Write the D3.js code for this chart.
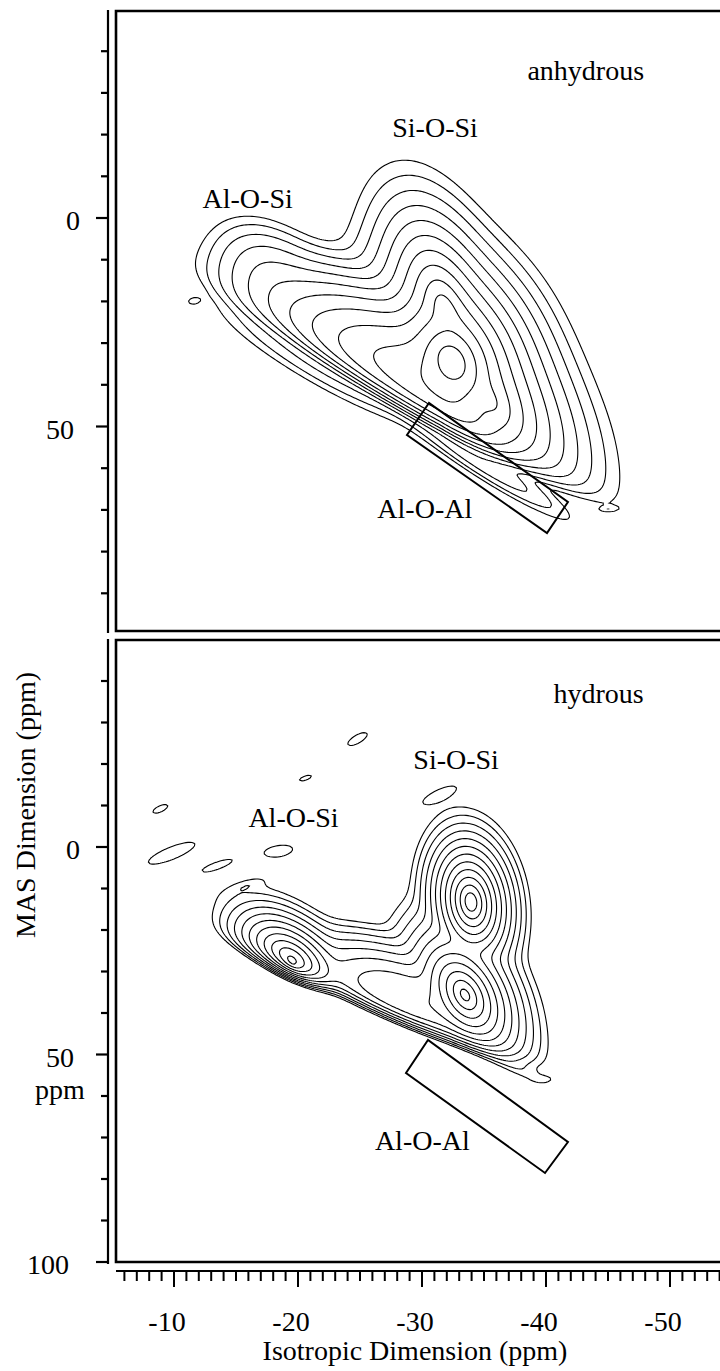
<!DOCTYPE html>
<html><head><meta charset="utf-8">
<script src="https://cdn.jsdelivr.net/npm/d3@7"></script>
<style>html,body{margin:0;padding:0;background:#fff}svg{display:block}</style>
</head><body>
<script>
// ---------- DATA (ppm) ----------
// spectral components:
// [iso, mas, amplitude, sdIso, sdMas, rho, shape, cutByEdge, sdIsoFactorTowardLowerShift]
// shape: 0.5 = exponential (cusped) profile, 1 = gaussian profile
const anhydrousPeaks = [
  [-32.42, 34.53, 1.25, 2.42,  8.73, -0.23, 0.5, 1, 1],   // Si-O-Si main
  [-31.85, 22.06, 0.70, 2.08, 10.3,  -0.45, 0.5, 1, 1],   // Si-O-Si upper ridge
  [-31.45, 42.45, 0.70, 4.50, 17.3,  -0.72, 1.0, 1, 2.0], // Al-O-Si ridge
  [-35.48, 43.65, 0.60, 3.22, 11.6,  -0.52, 0.5, 1, 1],   // Si-O-Si tail
  [-18.15, 14.87, 0.16, 3.90, 10.8,  -0.40, 1.0, 0, 1],   // Al-O-Si shoulder
  [-22.58, 35.25, 0.11, 7.80, 13.6,  -0.90, 1.0, 0, 1],   // tail below edge
  [-34.68, 58.03, 0.12, 6.12, 12.1,  -0.95, 1.0, 0, 1],   // Al-O-Al
  [-11.6,  19.9, 0.075, 1.2,  2.0,   0.20, 0.5, 0, 1],
  [-45.0,  69.8, 0.075, 1.8,  1.6,   0.10, 0.5, 0, 1]
];
const hydrousPeaks = [
  [-33.95, 13.25, 1.25, 1.13,  5.30, -0.15, 0.5, 1, 1], // Si-O-Si upper
  [-33.47, 35.66, 1.10, 1.60,  6.00, -0.40, 0.5, 1, 1], // Si-O-Si lower
  [-19.52, 27.71, 1.00, 1.65,  4.53, -0.49, 0.5, 1, 1], // Al-O-Si
  [-28.63, 38.07, 0.36, 5.61, 10.8,  -0.54, 1.0, 1, 1], // ridge between
  [-35.48, 48.92, 0.09, 4.21,  7.52, -0.93, 1.0, 0, 1], // Al-O-Al
  [ -9.8,   1.5, 0.075, 5.9, 8.3, 0.80, 0.5, 0, 1],
  [-13.4,   4.6, 0.072, 4.0, 5.0, 0.80, 0.5, 0, 1],
  [ -8.9,  -9.2, 0.075, 1.9, 3.3, 0.66, 0.5, 0, 1],
  [-20.6, -16.6, 0.075, 1.5, 2.1, 0.65, 0.5, 0, 1],
  [-24.8, -26.0, 0.075, 2.5, 5.0, 0.72, 0.5, 0, 1],
  [-18.5,   1.0, 0.072, 4.0, 5.2, 0.33, 0.5, 0, 1],
  [-15.8,   9.6, 0.075, 3.1, 4.2, 0.71, 0.5, 0, 1],
  [-31.4, -12.5, 0.075, 4.0, 6.5, 0.76, 0.5, 0, 1],
  [-39.76, 55.9, 0.075, 1.5, 1.5, 0.00, 0.5, 0, 1]
];
// lower-left cut-off line of the distribution [iso, mas] and its softness (ppm)
const anhydrousEdge = [[-18.55, 28.06], [-34.68, 54.44]];
const anhydrousEdgeWidth = 2.0;
const hydrousEdge = [[-16.13, 25.78], [-33.06, 46.99]];
const hydrousEdgeWidth = 1.5;
const contourLevels = [0.06, 0.077, 0.099, 0.127, 0.163, 0.209, 0.268, 0.344, 0.441, 0.566, 0.726, 0.93];
const blendPower = 4;
// Al-O-Al boxes [iso, mas]
const anhydrousBox = [[-30.56, 44.36], [-28.79, 52.04], [-40.08, 75.54], [-41.77, 68.11]];
const hydrousBox = [[-30.48, 46.5], [-28.71, 54.46], [-39.92, 78.55], [-41.77, 71.08]];
// text labels [text, iso, mas]
const anhydrousLabels = [["anhydrous", -38.5, -33.1], ["Si-O-Si", -27.6, -19.4], ["Al-O-Si", -12.3, -2.4], ["Al-O-Al", -26.4, 71.9]];
const hydrousLabels = [["hydrous", -40.6, -34.7], ["Si-O-Si", -29.3, -18.8], ["Al-O-Si", -16.0, -4.8], ["Al-O-Al", -26.2, 73.0]];
const xTickLabels = [-10, -20, -30, -40, -50];
const yTickLabelsTop = [[0, "0"], [50, "50"]];
const yTickLabelsBottom = [[0, "0"], [50, "50"], [100, "100"]];
const xTitle = "Isotropic Dimension (ppm)";
const yTitle = "MAS Dimension (ppm)";

// ---------- LAYOUT ----------
const W = 720, H = 1371;
const FONT = "'Liberation Serif','Times New Roman',serif";
const x = d3.scaleLinear().domain([0, -50]).range([50, 670]);
const yTop = d3.scaleLinear().domain([-50, 100]).range([9.5, 635]);
const yBot = d3.scaleLinear().domain([-50, 100]).range([639.5, 1262]);

const svg = d3.select("body").append("svg").attr("width", W).attr("height", H);

function fieldAt(peaks, edge, ew, iso, mas) {
  const [[i0, m0], [i1, m1]] = edge;
  const mLine = m0 + (iso - i0) * (m1 - m0) / (i1 - i0);
  const f = 1 / (1 + Math.exp((mas - mLine) / ew));
  let s = 0;
  for (const p of peaks) {
    const [ci, cm, a, si, sm, r, shape, isCut, stretch] = p;
    const u = (iso - ci) / (iso > ci ? si * stretch : si), v = (mas - cm) / sm;
    const q = Math.max(0, (u * u - 2 * r * u * v + v * v) / (1 - r * r));
    let val = a * Math.exp(-Math.pow(q / 2, shape));
    if (isCut) val *= f;
    s += Math.pow(val, blendPower);
  }
  return Math.pow(s, 1 / blendPower);
}

function drawPanel(y, peaks, edge, ew, box, labels, top, bottom) {
  const left = 116, right = 722, step = 2;
  const g = svg.append("g");
  const clipId = "clip" + top;
  svg.append("clipPath").attr("id", clipId).append("rect")
    .attr("x", left).attr("y", top).attr("width", right - left).attr("height", bottom - top);
  const nx = Math.ceil((right - left) / step) + 1, ny = Math.ceil((bottom - top) / step) + 1;
  const vals = new Float64Array(nx * ny);
  for (let j = 0; j < ny; j++) {
    const mas = y.invert(top + j * step);
    for (let i = 0; i < nx; i++) {
      const iso = x.invert(left + i * step);
      vals[j * nx + i] = fieldAt(peaks, edge, ew, iso, mas);
    }
  }
  const contours = d3.contours().size([nx, ny]).thresholds(contourLevels)(vals);
  const proj = d3.geoTransform({
    point: function(px, py) { this.stream.point(left + (px - 0.5) * step, top + (py - 0.5) * step); }
  });
  const path = d3.geoPath(proj);
  g.append("g").attr("clip-path", `url(#${clipId})`).selectAll("path").data(contours).join("path")
    .attr("d", path).attr("fill", "none").attr("stroke", "#000").attr("stroke-width", 1.1);
  g.append("path").datum(box)
    .attr("d", d3.line().x(d => x(d[0])).y(d => y(d[1])).curve(d3.curveLinearClosed))
    .attr("fill", "none").attr("stroke", "#000").attr("stroke-width", 2);
  g.selectAll("text.lab").data(labels).join("text").attr("class", "lab")
    .attr("x", d => x(d[1])).attr("y", d => y(d[2])).text(d => d[0])
    .attr("font-family", FONT).attr("font-size", 28).attr("fill", "#000");
  g.append("path").attr("d", `M${right},${top}H${left}V${bottom}H${right}`)
    .attr("fill", "none").attr("stroke", "#000").attr("stroke-width", 2.6);
}

drawPanel(yTop, anhydrousPeaks, anhydrousEdge, anhydrousEdgeWidth, anhydrousBox, anhydrousLabels, 11, 631);
drawPanel(yBot, hydrousPeaks, hydrousEdge, hydrousEdgeWidth, hydrousBox, hydrousLabels, 640, 1262);

// ---------- Y axis ----------
const ax = svg.append("g");
const axisX = 108;
function yAxisSeg(y, from, to, ticks) {
  ax.append("line").attr("x1", axisX).attr("x2", axisX).attr("y1", from).attr("y2", to)
    .attr("stroke", "#000").attr("stroke-width", 2.2);
  ax.selectAll(null).data(ticks).join("line")
    .attr("x1", d => axisX - (d % 50 === 0 ? 12 : 7)).attr("x2", axisX)
    .attr("y1", d => y(d)).attr("y2", d => y(d)).attr("stroke", "#000").attr("stroke-width", 2.2);
}
yAxisSeg(yTop, 10, 633, d3.range(-40, 100, 10));
yAxisSeg(yBot, 639, 1264, d3.range(-40, 101, 10));
const yLabelRight = { "0": 80, "50": 74, "100": 69 };
function yLabels(y, labs) {
  ax.selectAll(null).data(labs).join("text")
    .attr("x", d => yLabelRight[d[1]]).attr("y", d => y(d[0]) + 12).attr("text-anchor", "end")
    .attr("font-family", FONT).attr("font-size", 28).text(d => d[1]);
}
yLabels(yTop, yTickLabelsTop);
yLabels(yBot, yTickLabelsBottom);
ax.append("text").attr("x", 60).attr("y", yBot(50) + 44).attr("text-anchor", "middle")
  .attr("font-family", FONT).attr("font-size", 28).text("ppm");
ax.append("text").attr("transform", `translate(35,${805}) rotate(-90)`).attr("text-anchor", "middle")
  .attr("font-family", FONT).attr("font-size", 28).text(yTitle);

// ---------- X axis ----------
const axisY = 1271;
ax.append("line").attr("x1", 116).attr("x2", 720).attr("y1", axisY).attr("y2", axisY)
  .attr("stroke", "#000").attr("stroke-width", 2.2);
ax.selectAll(null).data(d3.range(-6, -55, -1)).join("line")
  .attr("x1", d => x(d)).attr("x2", d => x(d)).attr("y1", axisY)
  .attr("y2", d => axisY + (d % 10 === 0 ? 16 : 10)).attr("stroke", "#000").attr("stroke-width", 2);
ax.selectAll(null).data(xTickLabels).join("text")
  .attr("x", d => x(d) - 7).attr("y", 1331).attr("text-anchor", "middle")
  .attr("font-family", FONT).attr("font-size", 28).text(d => d);
ax.append("text").attr("x", 415).attr("y", 1360).attr("text-anchor", "middle")
  .attr("font-family", FONT).attr("font-size", 28).text(xTitle);
</script>
</body></html>
